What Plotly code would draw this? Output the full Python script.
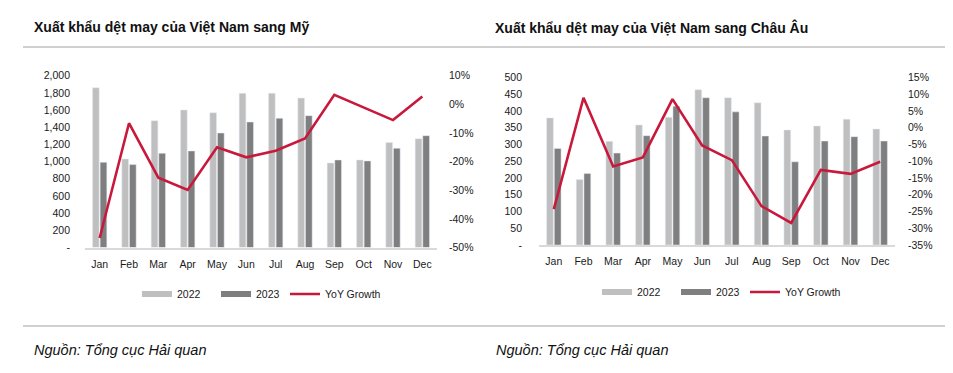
import plotly.graph_objects as go

months = ["Jan", "Feb", "Mar", "Apr", "May", "Jun", "Jul", "Aug", "Sep", "Oct", "Nov", "Dec"]

# US (left chart)
us_2022 = [1860, 1031, 1477, 1601, 1570, 1795, 1795, 1740, 984, 1019, 1221, 1267]
us_2023 = [992, 965, 1097, 1124, 1333, 1461, 1504, 1535, 1019, 1008, 1155, 1302]
us_yoy = [-46.7, -6.6, -25.6, -29.9, -15.0, -18.5, -16.2, -11.9, 3.3, -1.2, -5.5, 2.7]

# EU (right chart)
eu_2022 = [379, 195, 309, 358, 381, 463, 439, 424, 343, 355, 375, 346]
eu_2023 = [288, 213, 274, 326, 414, 439, 397, 325, 248, 310, 323, 310]
eu_yoy = [-24.3, 8.9, -11.6, -8.9, 8.5, -5.3, -9.7, -23.4, -28.4, -12.6, -13.8, -10.2]

us_left_ticks = list(range(0, 2001, 200))
us_left_text = ["-"] + [f"{v:,}" for v in us_left_ticks[1:]]
us_right_ticks = list(range(-50, 11, 10))
us_right_text = [f"{v}%" for v in us_right_ticks]

eu_left_ticks = list(range(0, 501, 50))
eu_left_text = ["-"] + [str(v) for v in eu_left_ticks[1:]]
eu_right_ticks = list(range(-35, 16, 5))
eu_right_text = [f"{v}%" for v in eu_right_ticks]

title_left = "Xuất khẩu dệt may của Việt Nam sang Mỹ"
title_right = "Xuất khẩu dệt may của Việt Nam sang Châu Âu"
source_text = "Nguồn: Tổng cục Hải quan"

C22 = "#bfbfbf"
C23 = "#7f7f7f"
CLINE = "#c8193c"
FONT = "Liberation Sans, Arial, sans-serif"
TXT = "#1a1a1a"

# page body has an 8px margin; the figure is placed at (8, 8)
OFF = 8
W, H = 953 - OFF, 373 - OFF


def px_x(x):
    return (x - OFF) / W


def px_y(y):
    return (H - (y - OFF)) / H


fig = go.Figure()

# Left chart
fig.add_trace(go.Bar(x=months, y=us_2022, name="2022", marker_color=C22, xaxis="x", yaxis="y",
                     showlegend=False, offsetgroup="a"))
fig.add_trace(go.Bar(x=months, y=us_2023, name="2023", marker_color=C23, xaxis="x", yaxis="y",
                     showlegend=False, offsetgroup="b"))
fig.add_trace(go.Scatter(x=months, y=us_yoy, name="YoY Growth", mode="lines",
                         line=dict(color=CLINE, width=2.6), xaxis="x", yaxis="y2", showlegend=False))

# Right chart
fig.add_trace(go.Bar(x=months, y=eu_2022, name="2022", marker_color=C22, xaxis="x2", yaxis="y3",
                     showlegend=False, offsetgroup="a"))
fig.add_trace(go.Bar(x=months, y=eu_2023, name="2023", marker_color=C23, xaxis="x2", yaxis="y3",
                     showlegend=False, offsetgroup="b"))
fig.add_trace(go.Scatter(x=months, y=eu_yoy, name="YoY Growth", mode="lines",
                         line=dict(color=CLINE, width=2.6), xaxis="x2", yaxis="y4", showlegend=False))

# Legend entries (wide flat swatches like the original)
for legs, xa, ya in ((("legend", "legend3"), "x", "y"), (("legend2", "legend4"), "x2", "y3")):
    for nm, col, w, leg in (("2022", C22, 6, legs[0]), ("2023", C23, 6, legs[0]),
                            ("YoY Growth", CLINE, 2.6, legs[1])):
        fig.add_trace(go.Scatter(x=[None], y=[None], name=nm, mode="lines",
                                 line=dict(color=col, width=w), xaxis=xa, yaxis=ya,
                                 legend=leg, showlegend=True, hoverinfo="skip"))

tickfont = dict(family=FONT, size=10.5, color=TXT)

xcommon = dict(showgrid=False, zeroline=False, showline=True, linecolor="#d9d9d9", linewidth=1.5,
               ticks="", tickfont=tickfont, ticklabelstandoff=6, fixedrange=True)
ycommon = dict(showgrid=False, zeroline=False, showline=False, ticks="", tickfont=tickfont,
               fixedrange=True)


def legend_cfg(xpx, ypx):
    return dict(orientation="h", x=px_x(xpx), y=px_y(ypx), xanchor="left", yanchor="middle",
                entrywidth=34, font=dict(family=FONT, size=10.5, color=TXT),
                itemwidth=30, borderwidth=0, bgcolor="rgba(0,0,0,0)", tracegroupgap=0)


leg3 = legend_cfg(285, 294)
leg3.pop("entrywidth")
leg4 = legend_cfg(745, 292)
leg4.pop("entrywidth")

fig.update_layout(
    width=W, height=H,
    margin=dict(l=0, r=0, t=0, b=0, autoexpand=False),
    paper_bgcolor="white", plot_bgcolor="white",
    barmode="group", bargap=0.48, bargroupgap=0.12,
    font=dict(family=FONT, size=10.5, color=TXT),
    xaxis=dict(domain=[px_x(85), px_x(437)], anchor="y", **xcommon),
    yaxis=dict(domain=[px_y(247.5), px_y(75.7)], anchor="x", range=[0, 2000],
               tickvals=us_left_ticks, ticktext=us_left_text, ticklabelstandoff=14, **ycommon),
    yaxis2=dict(overlaying="y", side="right", anchor="x", range=[-50, 10],
                tickvals=us_right_ticks, ticktext=us_right_text, ticklabelstandoff=11, **ycommon),
    xaxis2=dict(domain=[px_x(539), px_x(895)], anchor="y3", **xcommon),
    yaxis3=dict(domain=[px_y(245), px_y(77.3)], anchor="x2", range=[0, 500],
                tickvals=eu_left_ticks, ticktext=eu_left_text, ticklabelstandoff=16, **ycommon),
    yaxis4=dict(overlaying="y3", side="right", anchor="x2", range=[-35, 15],
                tickvals=eu_right_ticks, ticktext=eu_right_text, ticklabelstandoff=12, **ycommon),
    legend=legend_cfg(137, 294),
    legend2=legend_cfg(597, 292),
    legend3=leg3,
    legend4=leg4,
    shapes=[
        dict(type="line", xref="paper", yref="paper", x0=px_x(23), x1=px_x(947),
             y0=px_y(47), y1=px_y(47), line=dict(color="#c0c0c0", width=1.5)),
        dict(type="line", xref="paper", yref="paper", x0=px_x(23), x1=px_x(947),
             y0=px_y(326), y1=px_y(326), line=dict(color="#c0c0c0", width=1.5)),
    ],
    annotations=[
        dict(text="<b>" + title_left + "</b>", xref="paper", yref="paper", x=px_x(32), y=px_y(27),
             xanchor="left", yanchor="middle", showarrow=False,
             font=dict(family=FONT, size=14, color="#111111")),
        dict(text="<b>" + title_right + "</b>", xref="paper", yref="paper", x=px_x(493), y=px_y(27),
             xanchor="left", yanchor="middle", showarrow=False,
             font=dict(family=FONT, size=14, color="#111111")),
        dict(text="<i>" + source_text + "</i>", xref="paper", yref="paper", x=px_x(32), y=px_y(350),
             xanchor="left", yanchor="middle", showarrow=False,
             font=dict(family=FONT, size=14.5, color="#111111")),
        dict(text="<i>" + source_text + "</i>", xref="paper", yref="paper", x=px_x(494), y=px_y(350),
             xanchor="left", yanchor="middle", showarrow=False,
             font=dict(family=FONT, size=14.5, color="#111111")),
    ],
)

fig.write_html("out.html", config={"displayModeBar": False})
